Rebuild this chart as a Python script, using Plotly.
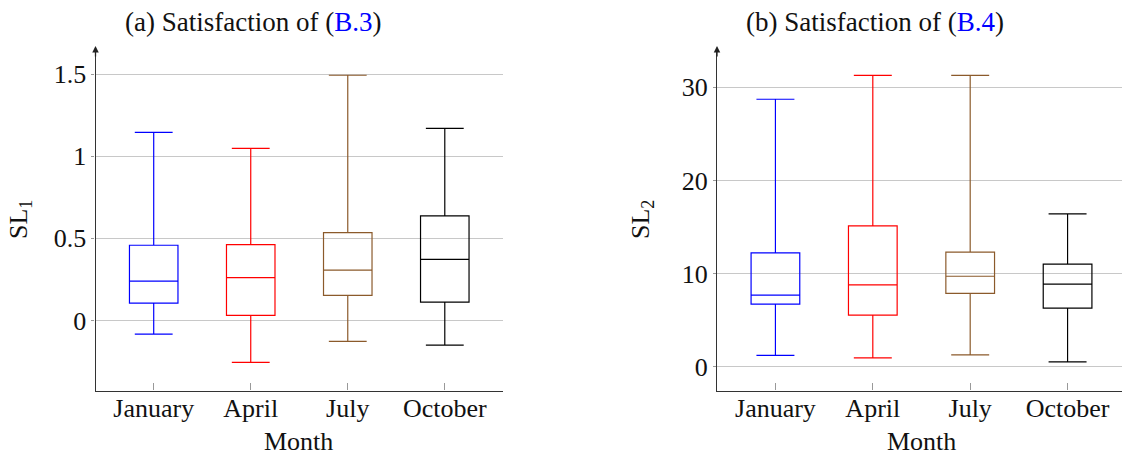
import plotly.graph_objects as go

months = ["January", "April", "July", "October"]
colors = ["#0000ff", "#ff0000", "#8b5a2b", "#000000"]

# Panel (a): SL1
sl1_low = [-0.083, -0.256, -0.128, -0.151]
sl1_q1 = [0.106, 0.031, 0.153, 0.112]
sl1_med = [0.240, 0.261, 0.307, 0.372]
sl1_q3 = [0.458, 0.462, 0.535, 0.637]
sl1_high = [1.146, 1.048, 1.494, 1.170]

# Panel (b): SL2
sl2_low = [1.22, 0.97, 1.29, 0.54]
sl2_q1 = [6.72, 5.54, 7.87, 6.29]
sl2_med = [7.69, 8.80, 9.72, 8.87]
sl2_q3 = [12.23, 15.12, 12.30, 11.01]
sl2_high = [28.71, 31.28, 31.28, 16.41]

yticks1 = [0, 0.5, 1, 1.5]
yticks2 = [0, 10, 20, 30]

# page body has an 8px margin; figure is sized/positioned to compensate
OFF = 8
W, H = 1130 - OFF, 456 - OFF
FONT = "Liberation Serif"
FS = 26

def px(x):
    return (x - OFF) / W

def py(y):
    return 1 - (y - OFF) / H

fig = go.Figure()

def add_boxes(low, q1, med, q3, high, xa, ya):
    for i, m in enumerate(months):
        fig.add_trace(go.Box(
            x=[i], lowerfence=[low[i]], q1=[q1[i]], median=[med[i]],
            q3=[q3[i]], upperfence=[high[i]],
            width=0.5, whiskerwidth=0.78,
            line=dict(color=colors[i], width=1.2),
            fillcolor="rgba(0,0,0,0)",
            boxpoints=False, name=m, showlegend=False,
            xaxis=xa, yaxis=ya, hoverinfo="skip",
        ))

add_boxes(sl1_low, sl1_q1, sl1_med, sl1_q3, sl1_high, "x", "y")
add_boxes(sl2_low, sl2_q1, sl2_med, sl2_q3, sl2_high, "x2", "y2")

ydom = [py(390.5), py(47.5)]

xcommon = dict(
    range=[-0.6, 3.6], tickmode="array", tickvals=list(range(4)), ticktext=months,
    showgrid=False, zeroline=False, showline=True, linecolor="#333333", linewidth=1.3,
    ticks="inside", ticklen=7, tickcolor="#999999", tickwidth=1,
    ticklabelstandoff=-6,
    tickfont=dict(family=FONT, size=FS, color="#111111"),
)
ycommon = dict(
    showgrid=True, gridcolor="#c8c8c8", gridwidth=1, zeroline=False,
    showline=True, linecolor="#333333", linewidth=1.3,
    ticks="outside", ticklen=3, tickcolor="#999999",
    tickfont=dict(family=FONT, size=FS, color="#111111"),
)

fig.update_layout(
    width=W, height=H, margin=dict(l=0, r=0, t=0, b=0),
    paper_bgcolor="white", plot_bgcolor="white", showlegend=False,
    xaxis=dict(domain=[px(95.5), px(503)], anchor="y", **xcommon),
    yaxis=dict(domain=ydom, anchor="x", range=[-0.427, 1.663],
               tickvals=yticks1, ticktext=["0", "0.5", "1", "1.5"], **ycommon),
    xaxis2=dict(domain=[px(717), px(1126)], anchor="y2", **xcommon),
    yaxis2=dict(domain=ydom, anchor="x2", range=[-2.54, 34.26],
                tickvals=yticks2, ticktext=[str(v) for v in yticks2], **ycommon),
)

ann_font = dict(family=FONT, size=FS, color="#111111")
title_font = dict(family=FONT, size=27, color="#111111")
anns = [
    dict(text="(a) Satisfaction of (<span style='color:#0000ff'>B.3</span>)",
         x=px(252.5), y=py(22), xref="paper", yref="paper",
         xanchor="center", yanchor="middle", showarrow=False, font=title_font),
    dict(text="(b) Satisfaction of (<span style='color:#0000ff'>B.4</span>)",
         x=px(875), y=py(22), xref="paper", yref="paper",
         xanchor="center", yanchor="middle", showarrow=False, font=title_font),
    dict(text="Month", x=px(298), y=py(441), xref="paper", yref="paper",
         xanchor="center", yanchor="middle", showarrow=False, font=ann_font),
    dict(text="Month", x=px(921), y=py(441), xref="paper", yref="paper",
         xanchor="center", yanchor="middle", showarrow=False, font=ann_font),
    dict(text="SL<sub>1</sub>", x=px(20), y=py(220), xref="paper", yref="paper",
         xanchor="center", yanchor="middle", showarrow=False, textangle=-90, font=ann_font),
    dict(text="SL<sub>2</sub>", x=px(642), y=py(220), xref="paper", yref="paper",
         xanchor="center", yanchor="middle", showarrow=False, textangle=-90, font=ann_font),
]
# arrowheads on y axes
for xp in (95.5, 717):
    anns.append(dict(x=px(xp), y=py(46), xref="paper", yref="paper",
                     ax=0, ay=12, axref="pixel", ayref="pixel",
                     showarrow=True, arrowhead=2, arrowsize=1, arrowwidth=1.3,
                     arrowcolor="#222222", text="", standoff=0))
fig.update_layout(annotations=anns)

fig.write_html("out.html")
